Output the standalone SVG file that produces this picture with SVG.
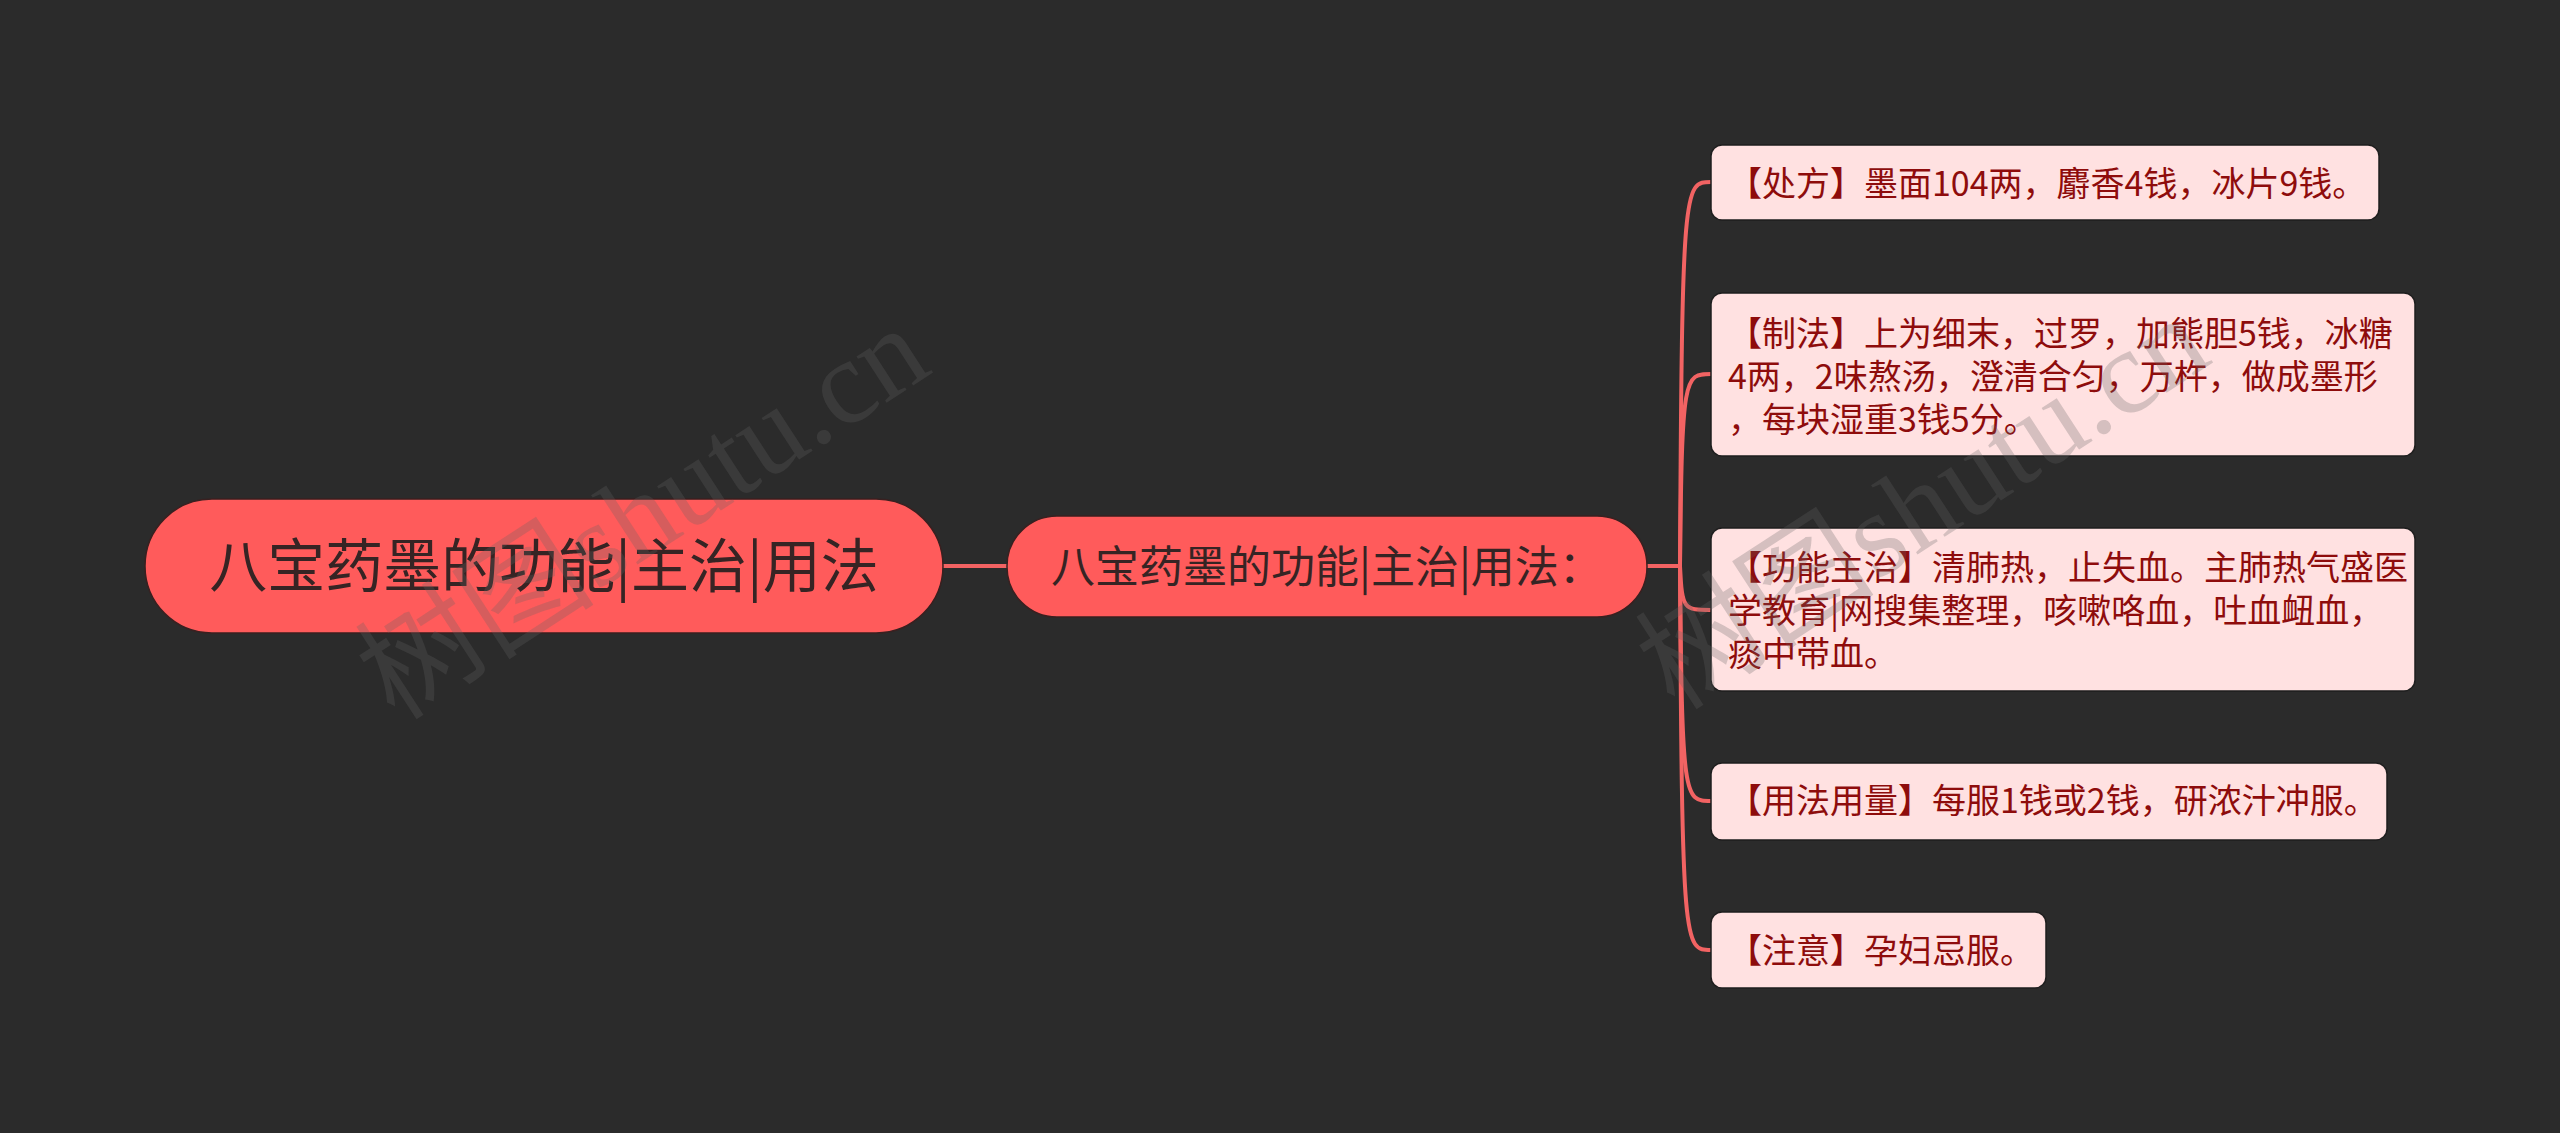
<svg xmlns="http://www.w3.org/2000/svg" width="2560" height="1133" viewBox="0 0 2560 1133">
<style>
.bg{fill:#2b2b2b}
.root{fill:#ff5b5b;stroke:#3a2020;stroke-width:1.5}
.mid{fill:#ff5b5b;stroke:#3a2020;stroke-width:1.5}
.leaf{fill:#ffe1e1;stroke:#1e1e1e;stroke-width:1.5}
.conn{fill:none;stroke:#f26363;stroke-width:4;stroke-linecap:round}
.t{font-family:"Noto Sans CJK SC","Noto Sans",sans-serif}
.troot{font-size:58px;fill:#362424;text-anchor:middle}
.tmid{font-size:44px;fill:#362424;text-anchor:middle}
.tleaf{font-size:34px;fill:#8e0c0c}
.wm{font-family:"Liberation Serif","Noto Sans CJK SC",serif;font-size:120px;fill:#646464;fill-opacity:0.27}
</style>
<rect class="bg" x="0" y="0" width="2560" height="1133"/>
<g id="connectors">
<path class="conn" d="M943 566 L1007 566"/>
<path class="conn" d="M1647 566 L1680 566 C1682 182 1684 182 1711 182"/>
<path class="conn" d="M1647 566 L1680 566 C1682 374 1684 374 1711 374"/>
<path class="conn" d="M1647 566 L1680 566 C1682 610 1684 610 1711 610"/>
<path class="conn" d="M1647 566 L1680 566 C1682 801 1684 801 1711 801"/>
<path class="conn" d="M1647 566 L1680 566 C1682 950 1684 950 1711 950"/>
</g>
<g id="root">
<rect class="root" x="145" y="499" width="798" height="134" rx="67"/>
<text class="t troot" x="544" y="587">八宝药墨的功能|主治|用法</text>
</g>
<g id="mid">
<rect class="mid" x="1007" y="516" width="640" height="101" rx="50"/>
<text class="t tmid" x="1327" y="583">八宝药墨的功能|主治|用法：</text>
</g>
<g id="leaf1">
<rect class="leaf" x="1711" y="145" width="668" height="75" rx="11"/>
<text class="t tleaf" x="1728" y="196">【处方】墨面104两，麝香4钱，冰片9钱。</text>
</g>
<g id="leaf2">
<rect class="leaf" x="1711" y="293" width="704" height="163" rx="11"/>
<text class="t tleaf" x="1728" y="346">【制法】上为细末，过罗，加熊胆5钱，冰糖</text>
<text class="t tleaf" x="1728" y="389">4两，2味熬汤，澄清合匀，万杵，做成墨形</text>
<text class="t tleaf" x="1728" y="432">，每块湿重3钱5分。</text>
</g>
<g id="leaf3">
<rect class="leaf" x="1711" y="528" width="704" height="163" rx="11"/>
<text class="t tleaf" x="1728" y="580">【功能主治】清肺热，止失血。主肺热气盛医</text>
<text class="t tleaf" x="1728" y="623">学教育|网搜集整理，咳嗽咯血，吐血衄血，</text>
<text class="t tleaf" x="1728" y="666">痰中带血。</text>
</g>
<g id="leaf4">
<rect class="leaf" x="1711" y="763" width="676" height="77" rx="11"/>
<text class="t tleaf" x="1728" y="813">【用法用量】每服1钱或2钱，研浓汁冲服。</text>
</g>
<g id="leaf5">
<rect class="leaf" x="1711" y="912" width="335" height="76" rx="11"/>
<text class="t tleaf" x="1728" y="963">【注意】孕妇忌服。</text>
</g>
<g id="watermarks">
<text class="wm" x="395" y="722" transform="rotate(-33 395 722)">树图shutu.cn</text>
<text class="wm" x="1675" y="712" transform="rotate(-33 1675 712)">树图shutu.cn</text>
</g>
</svg>
